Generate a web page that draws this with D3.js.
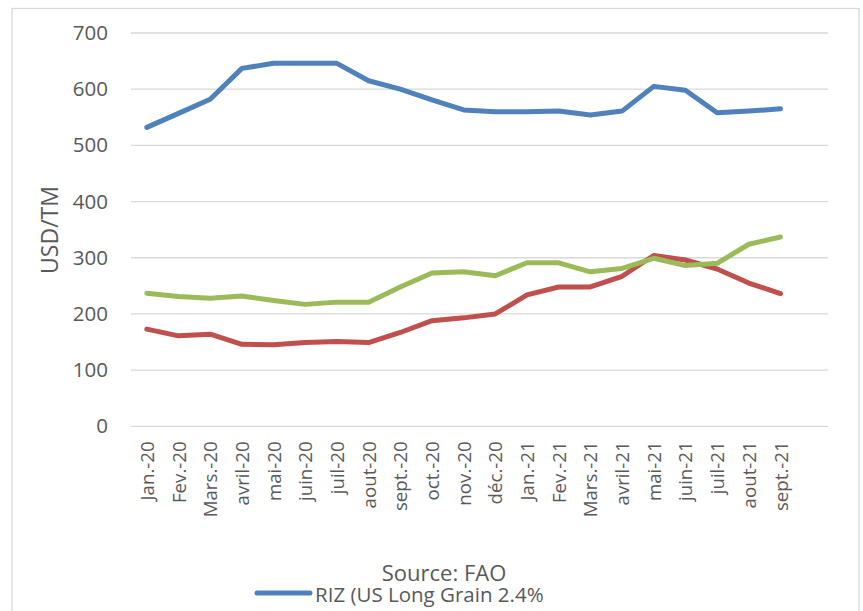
<!DOCTYPE html>
<html><head><meta charset="utf-8">
<script src="https://cdn.jsdelivr.net/npm/d3@7"></script>
<style>body{margin:0;background:#fff}svg{display:block}</style>
</head><body>
<script>
const categories = ["Jan.-20","Fev.-20","Mars.-20","avril-20","mai-20","juin-20","juil-20","aout-20","sept.-20","oct.-20","nov.-20","déc.-20","Jan.-21","Fev.-21","Mars.-21","avril-21","mai-21","juin-21","juil-21","aout-21","sept.-21"];
const rizUS = [532,557,582,637,646,646,646,615,600,581,563,560,560,561,554,561,605,598,558,561,565];
const seriesRed = [173,161,164,146,145,149,151,149,167,188,193,200,234,248,248,267,304,296,280,255,236];
const seriesGreen = [237,231,228,232,224,217,221,221,248,273,275,268,291,291,275,281,299,286,290,324,337];
const yTicks = [0,100,200,300,400,500,600,700];
const legendLabel = "RIZ (US Long Grain 2.4%";
const sourceLabel = "Source: FAO";
const yTitle = "USD/TM";

(function(){
const W = 863, H = 611;
const svg = d3.select("body").append("svg").attr("width", W).attr("height", H);
const font = "'Open Sans', sans-serif";
const txt = "#595959", grid = "#d9d9d9";

svg.append("rect").attr("x",12).attr("y",8.5).attr("width",847).attr("height",620)
  .attr("fill","none").attr("stroke",grid).attr("stroke-width",1.3);

const pLeft = 131, pRight = 828, pTop = 33, pBottom = 426.3;
const step = (pRight-pLeft)/(categories.length+1);
const x = d3.scalePoint().domain(categories).range([pLeft+step/2, pRight-1.5*step]);
const y = d3.scaleLinear().domain([0,700]).range([pBottom, pTop]);

svg.append("g").selectAll("line").data(yTicks).join("line")
  .attr("x1",pLeft).attr("x2",pRight).attr("y1",d=>y(d)).attr("y2",d=>y(d))
  .attr("stroke",grid).attr("stroke-width",1.3);

const yAxis = svg.append("g").attr("transform",`translate(${pLeft},0)`)
  .call(d3.axisLeft(y).tickValues(yTicks).tickSize(0).tickPadding(23));
yAxis.select(".domain").remove();
yAxis.selectAll("text").attr("font-family",font).attr("font-size",20.5).attr("fill",txt);

const xAxis = svg.append("g").attr("transform",`translate(0,${pBottom})`)
  .call(d3.axisBottom(x).tickSize(0));
xAxis.select(".domain").remove();
xAxis.selectAll("text").attr("font-family",font).attr("font-size",18.7).attr("fill",txt)
  .attr("transform","rotate(-90)").attr("text-anchor","end")
  .attr("x",-15).attr("y",0).attr("dy","0.35em");

svg.append("text").attr("transform","translate(50,230) rotate(-90)")
  .attr("text-anchor","middle").attr("dy","0.35em")
  .attr("font-family",font).attr("font-size",23).attr("fill",txt).text(yTitle);

const line = d3.line().x((d,i)=>x(categories[i])).y(d=>y(d));
const series = [[rizUS,"#4F81BD"],[seriesRed,"#C0504D"],[seriesGreen,"#9BBB59"]];
svg.append("g").selectAll("path").data(series).join("path")
  .attr("d",d=>line(d[0])).attr("fill","none").attr("stroke",d=>d[1])
  .attr("stroke-width",5).attr("stroke-linejoin","round").attr("stroke-linecap","round");

svg.append("text").attr("x",444).attr("y",581).attr("text-anchor","middle")
  .attr("font-family",font).attr("font-size",22).attr("fill",txt).text(sourceLabel);

svg.append("line").attr("x1",257).attr("x2",310).attr("y1",593).attr("y2",593)
  .attr("stroke","#4F81BD").attr("stroke-width",5).attr("stroke-linecap","round");
svg.append("text").attr("x",315).attr("y",602)
  .attr("font-family",font).attr("font-size",20.5).attr("fill",txt).text(legendLabel);
})();
</script>
</body></html>
